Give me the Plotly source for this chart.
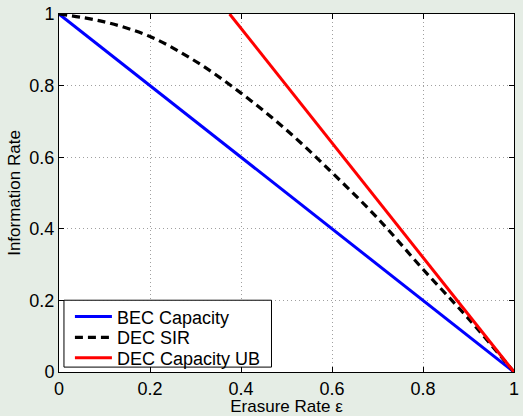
import plotly.graph_objects as go

# Data
eps_bec = [0.0, 1.0]
rate_bec = [1.0, 0.0]

eps_sir = [0.0, 0.1, 0.2, 0.3, 0.4, 0.5, 0.6, 0.7, 0.8, 0.9, 1.0]
rate_sir = [1.0, 0.978, 0.937, 0.868, 0.779, 0.676, 0.557, 0.43, 0.287, 0.149, 0.0]

eps_ub = [0.375, 1.0]
rate_ub = [1.0, 0.0]

tick_vals = [0, 0.2, 0.4, 0.6, 0.8, 1]
tick_text = ["0", "0.2", "0.4", "0.6", "0.8", "1"]

FONT = "Liberation Sans, Arial, Helvetica, sans-serif"
BG = "rgb(229,237,229)"

fig = go.Figure()
fig.add_trace(go.Scatter(x=eps_bec, y=rate_bec, mode="lines", name="BEC Capacity",
                         legend="legend",
                         line=dict(color="rgb(0,0,255)", width=3)))
fig.add_trace(go.Scatter(x=eps_sir, y=rate_sir, mode="lines", name="DEC SIR",
                         legend="legend2",
                         line=dict(color="black", width=3.2, dash="8px,5px", shape="spline")))
fig.add_trace(go.Scatter(x=eps_ub, y=rate_ub, mode="lines", name="DEC Capacity UB",
                         legend="legend3",
                         line=dict(color="rgb(255,0,0)", width=3)))

axis_common = dict(
    range=[0, 1], tickvals=tick_vals, ticktext=tick_text,
    showline=True, linecolor="black", linewidth=1, mirror="allticks",
    ticks="inside", ticklen=5, tickcolor="black",
    showgrid=True, gridcolor="rgb(160,160,160)", griddash="1px,3px", gridwidth=1,
    zeroline=False, tickfont=dict(size=18, color="black", family=FONT),
    ticklabeloverflow="allow",
)

leg_common = dict(xanchor="left", yanchor="middle", x=0.024, itemwidth=37,
                  bgcolor="rgba(0,0,0,0)", borderwidth=0,
                  font=dict(size=18, family=FONT, color="black"))

fig.update_layout(
    width=523, height=416,
    margin=dict(l=59, r=4, t=12, b=40),
    paper_bgcolor=BG, plot_bgcolor="white",
    font=dict(family=FONT, size=18, color="black"),
    showlegend=True,
    legend=dict(**leg_common, y=0.154),
    legend2=dict(**leg_common, y=0.096),
    legend3=dict(**leg_common, y=0.039),
    shapes=[dict(type="rect", xref="paper", yref="paper",
                 x0=0.0109, x1=0.467, y0=0.0137, y1=0.2005,
                 fillcolor="white", line=dict(color="black", width=1),
                 layer="above")],
)
fig.update_xaxes(**axis_common, title=dict(text="Erasure Rate ε", standoff=2,
                                           font=dict(size=17, family=FONT)))
fig.update_yaxes(**axis_common, title=dict(text="Information Rate", standoff=4,
                                           font=dict(size=17, family=FONT)))

fig.write_html("out.html")
